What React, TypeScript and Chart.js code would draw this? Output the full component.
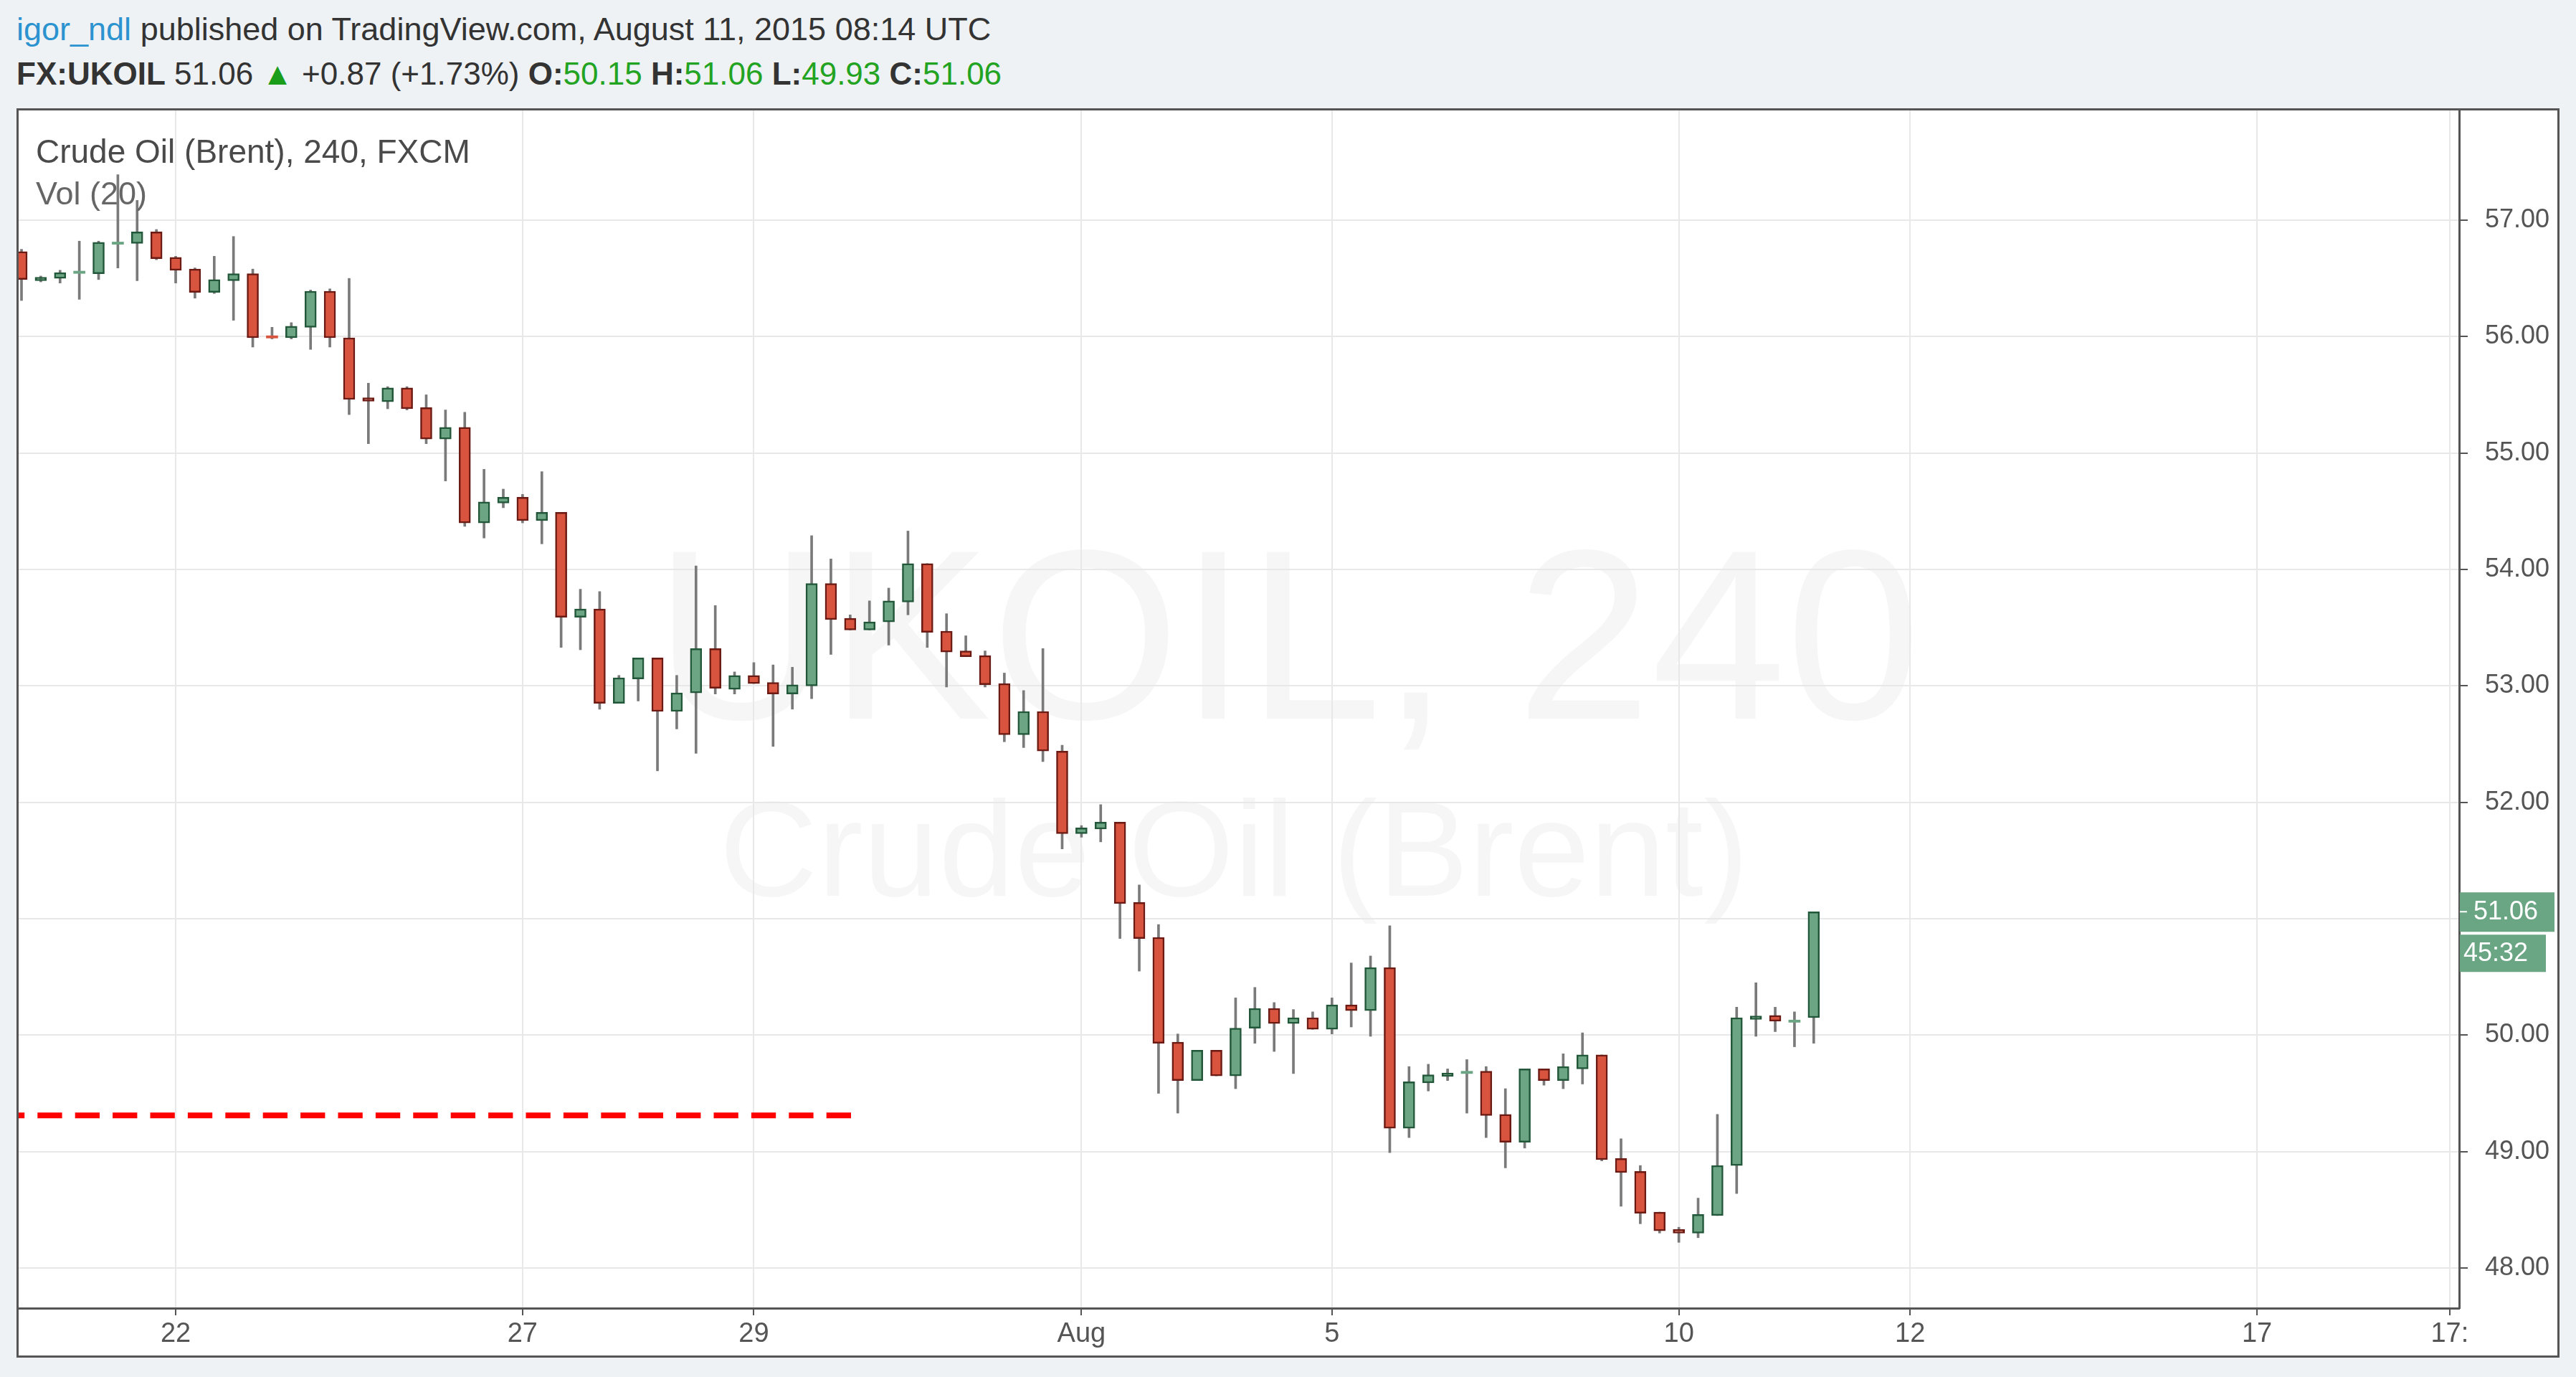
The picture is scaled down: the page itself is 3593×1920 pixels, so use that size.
import React, { useEffect, useRef } from "react";
import { Chart, registerables } from "chart.js";

Chart.register(...registerables);

// ---- Data (4h candles, FX:UKOIL) ----
const opens = [
  56.73, 56.48, 56.50, 56.55, 56.54, 56.80, 56.80, 56.90, 56.68, 56.58,
  56.38, 56.48, 56.54, 56.00, 55.99, 56.08, 56.39, 55.99, 55.47, 55.44,
  55.56, 55.39, 55.12, 55.22, 54.40, 54.57, 54.62, 54.42, 54.49, 53.59,
  53.66, 52.85, 53.06, 53.24, 52.78, 52.94, 53.32, 52.97, 53.09, 53.03,
  52.93, 53.00, 53.88, 53.58, 53.48, 53.55, 53.72, 54.05, 53.47, 53.30,
  53.26, 53.02, 52.58, 52.78, 52.44, 51.73, 51.77, 51.83, 51.14, 50.84,
  49.94, 49.61, 49.87, 49.65, 50.06, 50.23, 50.10, 50.15, 50.05, 50.26,
  50.21, 50.58, 49.20, 49.59, 49.65, 49.68, 49.69, 49.32, 49.08, 49.71,
  49.61, 49.71, 49.83, 48.94, 48.83, 48.48, 48.33, 48.30, 48.45, 48.88,
  50.14, 50.17, 50.12, 50.15,
];
const highs = [
  56.75, 56.52, 56.57, 56.82, 56.82, 57.39, 57.17, 56.92, 56.69, 56.59,
  56.69, 56.86, 56.58, 56.08, 56.12, 56.40, 56.41, 56.50, 55.60, 55.57,
  55.57, 55.50, 55.37, 55.35, 54.86, 54.69, 54.645, 54.84, 54.49, 53.83,
  53.81, 53.09, 53.24, 53.24, 53.09, 54.03, 53.69, 53.12, 53.20, 53.18,
  53.16, 54.29, 54.09, 53.61, 53.73, 53.84, 54.33, 54.05, 53.62, 53.43,
  53.30, 53.11, 52.96, 53.32, 52.49, 51.80, 51.98, 51.83, 51.29, 50.95,
  50.01, 49.87, 49.87, 50.32, 50.41, 50.28, 50.22, 50.20, 50.32, 50.62,
  50.68, 50.94, 49.73, 49.75, 49.71, 49.79, 49.73, 49.54, 49.71, 49.71,
  49.84, 50.02, 49.83, 49.11, 48.88, 48.48, 48.35, 48.60, 49.32, 50.24,
  50.45, 50.24, 50.20, 51.06,
];
const lows = [
  56.31, 56.47, 56.46, 56.32, 56.49, 56.59, 56.48, 56.66, 56.46, 56.33,
  56.37, 56.14, 55.91, 55.98, 55.98, 55.89, 55.91, 55.33, 55.08, 55.38,
  55.37, 55.08, 54.76, 54.37, 54.27, 54.53, 54.40, 54.22, 53.33, 53.31,
  52.80, 52.85, 52.87, 52.27, 52.63, 52.42, 52.93, 52.93, 53.02, 52.48,
  52.80, 52.89, 53.27, 53.48, 53.48, 53.35, 53.61, 53.33, 52.99, 53.25,
  52.99, 52.52, 52.47, 52.35, 51.60, 51.70, 51.66, 50.83, 50.55, 49.50,
  49.33, 49.61, 49.65, 49.54, 49.93, 49.86, 49.67, 50.05, 50.01, 50.07,
  49.99, 48.99, 49.12, 49.52, 49.61, 49.33, 49.12, 48.86, 49.03, 49.57,
  49.54, 49.58, 48.92, 48.53, 48.38, 48.30, 48.22, 48.26, 48.45, 48.64,
  49.99, 50.03, 49.90, 49.93,
];
const closes = [
  56.49, 56.51, 56.55, 56.555, 56.81, 56.805, 56.90, 56.67, 56.57, 56.38,
  56.49, 56.54, 55.99, 55.995, 56.09, 56.39, 55.99, 55.46, 55.45, 55.56,
  55.38, 55.12, 55.22, 54.40, 54.58, 54.62, 54.42, 54.49, 53.59, 53.66,
  52.85, 53.07, 53.24, 52.78, 52.94, 53.32, 52.98, 53.09, 53.02, 52.93,
  53.01, 53.88, 53.57, 53.48, 53.55, 53.73, 54.05, 53.46, 53.29, 53.25,
  53.01, 52.58, 52.78, 52.44, 51.73, 51.78, 51.83, 51.13, 50.83, 49.93,
  49.61, 49.87, 49.65, 50.06, 50.23, 50.10, 50.15, 50.05, 50.26, 50.21,
  50.58, 49.20, 49.60, 49.66, 49.67, 49.68, 49.31, 49.08, 49.71, 49.61,
  49.73, 49.83, 48.93, 48.82, 48.47, 48.32, 48.30, 48.46, 48.88, 50.15,
  50.16, 50.12, 50.12, 51.06,
];

// x axis: candle index of each date tick, and its label
const xTickIndex = [8, 26, 38, 55, 68, 86, 98, 116, 126];
const xTickLabels = ["22", "27", "29", "Aug", "5", "10", "12", "17", "17:"];
const xRange = [-0.149, 126.49];

// y axis
const yTicks = [48, 49, 50, 51, 52, 53, 54, 55, 56, 57];
const yRange = [47.655, 57.9425];

// horizontal dashed level
const levelPrice = [49.31, 49.31];
const levelX = [-1.12, 43.05];

// last price badges
const lastPrice = 51.06;
const lastPriceLabel = "51.06";
const countdownLabel = "45:32";

// header
const author = "igor_ndl";
const publishedText = " published on TradingView.com, August 11, 2015 08:14 UTC";
const symbol = "FX:UKOIL";
const lastText = "51.06";
const changeText = "+0.87 (+1.73%)";
const ohlcLabels = ["O:", "H:", "L:", "C:"];
const ohlcValues = ["50.15", "51.06", "49.93", "51.06"];
const legendTitle = "Crude Oil (Brent), 240, FXCM";
const legendVol = "Vol (20)";
const watermark1 = "UKOIL, 240";
const watermark2 = "Crude Oil (Brent)";

const FONT = "'Liberation Sans', Arial, sans-serif";
const UP_FILL = "#6ca583";
const UP_BORDER = "#22573a";
const DOWN_FILL = "#d8543f";
const DOWN_BORDER = "#6b1b13";

const CANVAS_W = 3541;
const CANVAS_H = 1736;

function App() {
  const canvasRef = useRef<HTMLCanvasElement | null>(null);

  useEffect(() => {
    const canvas = canvasRef.current;
    if (!canvas) return;

    const wickData = opens.map((_, i) => ({ x: i, y: [lows[i], highs[i]] }));
    const bodyData: any[] = [];
    const bodyFill: string[] = [];
    const bodyBorder: string[] = [];
    const bodyBW: number[] = [];
    opens.forEach((o, i) => {
      const c = closes[i];
      const up = c >= o;
      let lo = Math.min(o, c);
      let hi = Math.max(o, c);
      let bw = 2.5;
      if (hi - lo < 0.008) {
        const m = (lo + hi) / 2;
        lo = m - 0.01;
        hi = m + 0.01;
        bw = 0;
      } else if (hi - lo < 0.03) {
        const m = (lo + hi) / 2;
        lo = m - 0.015;
        hi = m + 0.015;
      }
      bodyData.push({ x: i, y: [lo, hi] });
      bodyFill.push(up ? UP_FILL : DOWN_FILL);
      bodyBorder.push(up ? UP_BORDER : DOWN_BORDER);
      bodyBW.push(bw);
    });

    const watermarkPlugin = {
      id: "watermark",
      beforeDraw(chart: any) {
        const { ctx, chartArea } = chart;
        const w = chartArea.right - chartArea.left;
        ctx.save();
        ctx.fillStyle = "rgba(0,0,0,0.035)";
        ctx.textAlign = "center";
        ctx.textBaseline = "alphabetic";
        ctx.font = `338px ${FONT}`;
        ctx.fillText(watermark1, chartArea.left + w * 0.52, chartArea.top + 848);
        ctx.font = `190px ${FONT}`;
        ctx.fillText(watermark2, chartArea.left + w * 0.498, chartArea.top + 1095);
        ctx.restore();
      },
    };

    const badgePlugin = {
      id: "badges",
      afterDraw(chart: any) {
        const { ctx, chartArea, scales } = chart;
        const y = scales.y.getPixelForValue(lastPrice);
        const left = chartArea.right + 1;
        ctx.save();
        ctx.fillStyle = "#6aa584";
        ctx.fillRect(left, y - 27, 132, 55);
        ctx.fillRect(left, y + 32, 120, 52);
        ctx.fillStyle = "#ffffff";
        ctx.fillRect(left, y - 1, 10, 2);
        ctx.font = `36px ${FONT}`;
        ctx.textAlign = "left";
        ctx.textBaseline = "middle";
        ctx.fillText(lastPriceLabel, chartArea.right + 20, y + 1);
        ctx.fillText(countdownLabel, chartArea.right + 6, y + 59);
        ctx.restore();
      },
    };

    const chart = new Chart(canvas, {
      type: "bar",
      data: {
        datasets: [
          {
            type: "line",
            data: levelX.map((x, i) => ({ x, y: levelPrice[i] })),
            borderColor: "#ff0000",
            borderWidth: 8,
            borderDash: [34.3, 18.1],
            pointRadius: 0,
            order: 1,
          } as any,
          {
            data: bodyData,
            backgroundColor: bodyFill,
            borderColor: bodyBorder,
            borderWidth: bodyBW,
            borderSkipped: false,
            barThickness: 16,
            grouped: false,
            order: 2,
          } as any,
          {
            data: wickData,
            backgroundColor: "#7a7a7a",
            borderWidth: 0,
            barThickness: 3,
            grouped: false,
            order: 3,
          } as any,
        ],
      },
      options: {
        animation: false,
        responsive: false,
        maintainAspectRatio: false,
        devicePixelRatio: 1,
        layout: { padding: 0 },
        plugins: { legend: { display: false }, tooltip: { enabled: false } },
        scales: {
          x: {
            type: "linear",
            min: xRange[0],
            max: xRange[1],
            offset: false,
            afterBuildTicks: (s: any) => {
              s.ticks = xTickIndex.map((v) => ({ value: v }));
            },
            afterFit: (s: any) => {
              s.height = 66;
              s.paddingLeft = 0;
              s.paddingRight = 0;
            },
            ticks: {
              autoSkip: false,
              maxRotation: 0,
              padding: 4,
              color: "#555555",
              font: { family: FONT, size: 38 },
              callback: (v: any) => {
                const k = xTickIndex.indexOf(Number(v));
                return k >= 0 ? xTickLabels[k] : "";
              },
            },
            grid: {
              color: "#e8e8e8",
              lineWidth: 2,
              offset: false,
              drawTicks: true,
              tickLength: 10,
              tickColor: "#555555",
              tickWidth: 2,
            },
            border: { display: true, color: "#555555", width: 3 },
          } as any,
          y: {
            type: "linear",
            position: "right",
            min: yRange[0],
            max: yRange[1],
            afterBuildTicks: (s: any) => {
              s.ticks = yTicks.map((v) => ({ value: v }));
            },
            afterFit: (s: any) => {
              s.width = 137;
              s.paddingTop = 0;
              s.paddingBottom = 0;
            },
            ticks: {
              padding: 24,
              color: "#555555",
              font: { family: FONT, size: 36 },
              callback: (v: any) => Number(v).toFixed(2),
            },
            grid: {
              color: "#e8e8e8",
              lineWidth: 2,
              drawTicks: true,
              tickLength: 12,
              tickColor: "#555555",
              tickWidth: 2,
            },
            border: { display: true, color: "#555555", width: 3 },
          } as any,
        },
      } as any,
      plugins: [watermarkPlugin, badgePlugin],
    });

    return () => chart.destroy();
  }, []);

  const green = "#22a322";
  const dark = "#333333";

  return (
    <div
      style={{
        position: "absolute",
        left: 0,
        top: 0,
        width: 3593,
        height: 1920,
        background: "#eff2f5",
        fontFamily: FONT,
        overflow: "hidden",
      }}
    >
      <div
        style={{
          position: "absolute",
          left: 23,
          top: 15,
          fontSize: 45,
          lineHeight: "52px",
          whiteSpace: "pre",
          color: dark,
        }}
      >
        <span style={{ color: "#2b93cf" }}>{author}</span>
        {publishedText}
      </div>
      <div
        style={{
          position: "absolute",
          left: 23,
          top: 77,
          fontSize: 44,
          lineHeight: "52px",
          whiteSpace: "pre",
          color: dark,
        }}
      >
        <b>{symbol}</b>
        {" " + lastText + " "}
        <span style={{ color: "#1a9e1a" }}>▲</span>
        {" " + changeText + " "}
        {ohlcLabels.map((l, i) => (
          <React.Fragment key={l}>
            <b>{l}</b>
            <span style={{ color: green }}>{ohlcValues[i]}</span>
            {i < ohlcLabels.length - 1 ? " " : ""}
          </React.Fragment>
        ))}
      </div>
      <div
        style={{
          position: "absolute",
          left: 23,
          top: 151,
          width: 3547,
          height: 1742,
          boxSizing: "border-box",
          border: "3px solid #555555",
          background: "#ffffff",
        }}
      >
        <canvas
          ref={canvasRef}
          width={CANVAS_W}
          height={CANVAS_H}
          style={{ position: "absolute", left: 0, top: 0, width: CANVAS_W, height: CANVAS_H }}
        />
        <div
          style={{
            position: "absolute",
            left: 24,
            top: 31,
            fontSize: 46,
            lineHeight: "52px",
            color: "#4a4a4a",
            whiteSpace: "pre",
            pointerEvents: "none",
          }}
        >
          {legendTitle}
        </div>
        <div
          style={{
            position: "absolute",
            left: 24,
            top: 90,
            fontSize: 45,
            lineHeight: "52px",
            color: "#666666",
            whiteSpace: "pre",
            pointerEvents: "none",
          }}
        >
          {legendVol}
        </div>
      </div>
    </div>
  );
}

export default App;
